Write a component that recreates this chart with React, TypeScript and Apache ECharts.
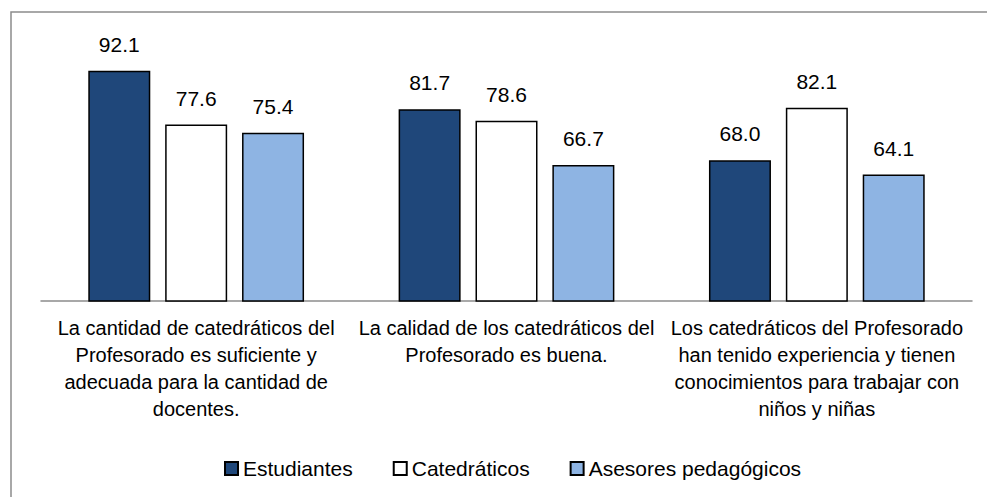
import React, { useEffect, useRef } from "react";
import * as echarts from "echarts";

const categories = [
  "La cantidad de catedráticos del\nProfesorado es suficiente y\nadecuada para la cantidad de\ndocentes.",
  "La calidad de los catedráticos del\nProfesorado es buena.",
  "Los catedráticos del Profesorado\nhan tenido experiencia y tienen\nconocimientos para trabajar con\nniños y niñas",
];
const estudiantes = [92.1, 81.7, 68.0];
const catedraticos = [77.6, 78.6, 82.1];
const asesores = [75.4, 66.7, 64.1];
const seriesNames = ["Estudiantes", "Catedráticos", "Asesores pedagógicos"];

const FONT = "'Liberation Sans', Arial, sans-serif";

export default function App() {
  const ref = useRef<HTMLDivElement>(null);
  useEffect(() => {
    if (!ref.current) return;
    const chart = echarts.init(ref.current, undefined, { renderer: "svg" });
    const colors = ["#1F477A", "#FFFFFF", "#8EB4E3"];
    const datas = [estudiantes, catedraticos, asesores];
    chart.setOption({
      animation: false,
      textStyle: { fontFamily: FONT },
      graphic: [
        {
          type: "rect",
          shape: { x: 11, y: 12, width: 1000, height: 520 },
          style: { fill: "none", stroke: "#8C8C8C", lineWidth: 1.5 },
          silent: true,
        },
      ],
      grid: { left: 41, right: 15, top: 41.5, bottom: 196, containLabel: false },
      legend: {
        top: 453,
        left: 219,
        icon: "rect",
        itemWidth: 13,
        itemHeight: 13,
        itemGap: 40,
        textStyle: { fontFamily: FONT, fontSize: 21, color: "#000" },
        data: seriesNames,
      },
      xAxis: {
        type: "category",
        data: categories,
        axisTick: { show: false },
        axisLine: { lineStyle: { color: "#8C8C8C", width: 1.5 } },
        axisLabel: {
          interval: 0,
          margin: 13,
          fontFamily: FONT,
          fontSize: 20,
          lineHeight: 27,
          color: "#000",
          align: "center",
        },
      },
      yAxis: {
        type: "value",
        min: 30,
        max: 100,
        show: false,
        splitLine: { show: false },
      },
      series: datas.map((d, i) => ({
        name: seriesNames[i],
        type: "bar",
        data: d,
        barWidth: 62,
        barGap: "24%",
        itemStyle: { color: colors[i], borderColor: "#000", borderWidth: 1.5 },
        label: {
          show: true,
          position: "top",
          distance: 16,
          fontFamily: FONT,
          fontSize: 21,
          color: "#000",
          formatter: (p: any) => Number(p.value).toFixed(1),
        },
      })),
    });
    return () => chart.dispose();
  }, []);
  return (
    <div
      ref={ref}
      style={{ position: "fixed", left: 0, top: 0, width: 987, height: 497, background: "#fff" }}
    />
  );
}
